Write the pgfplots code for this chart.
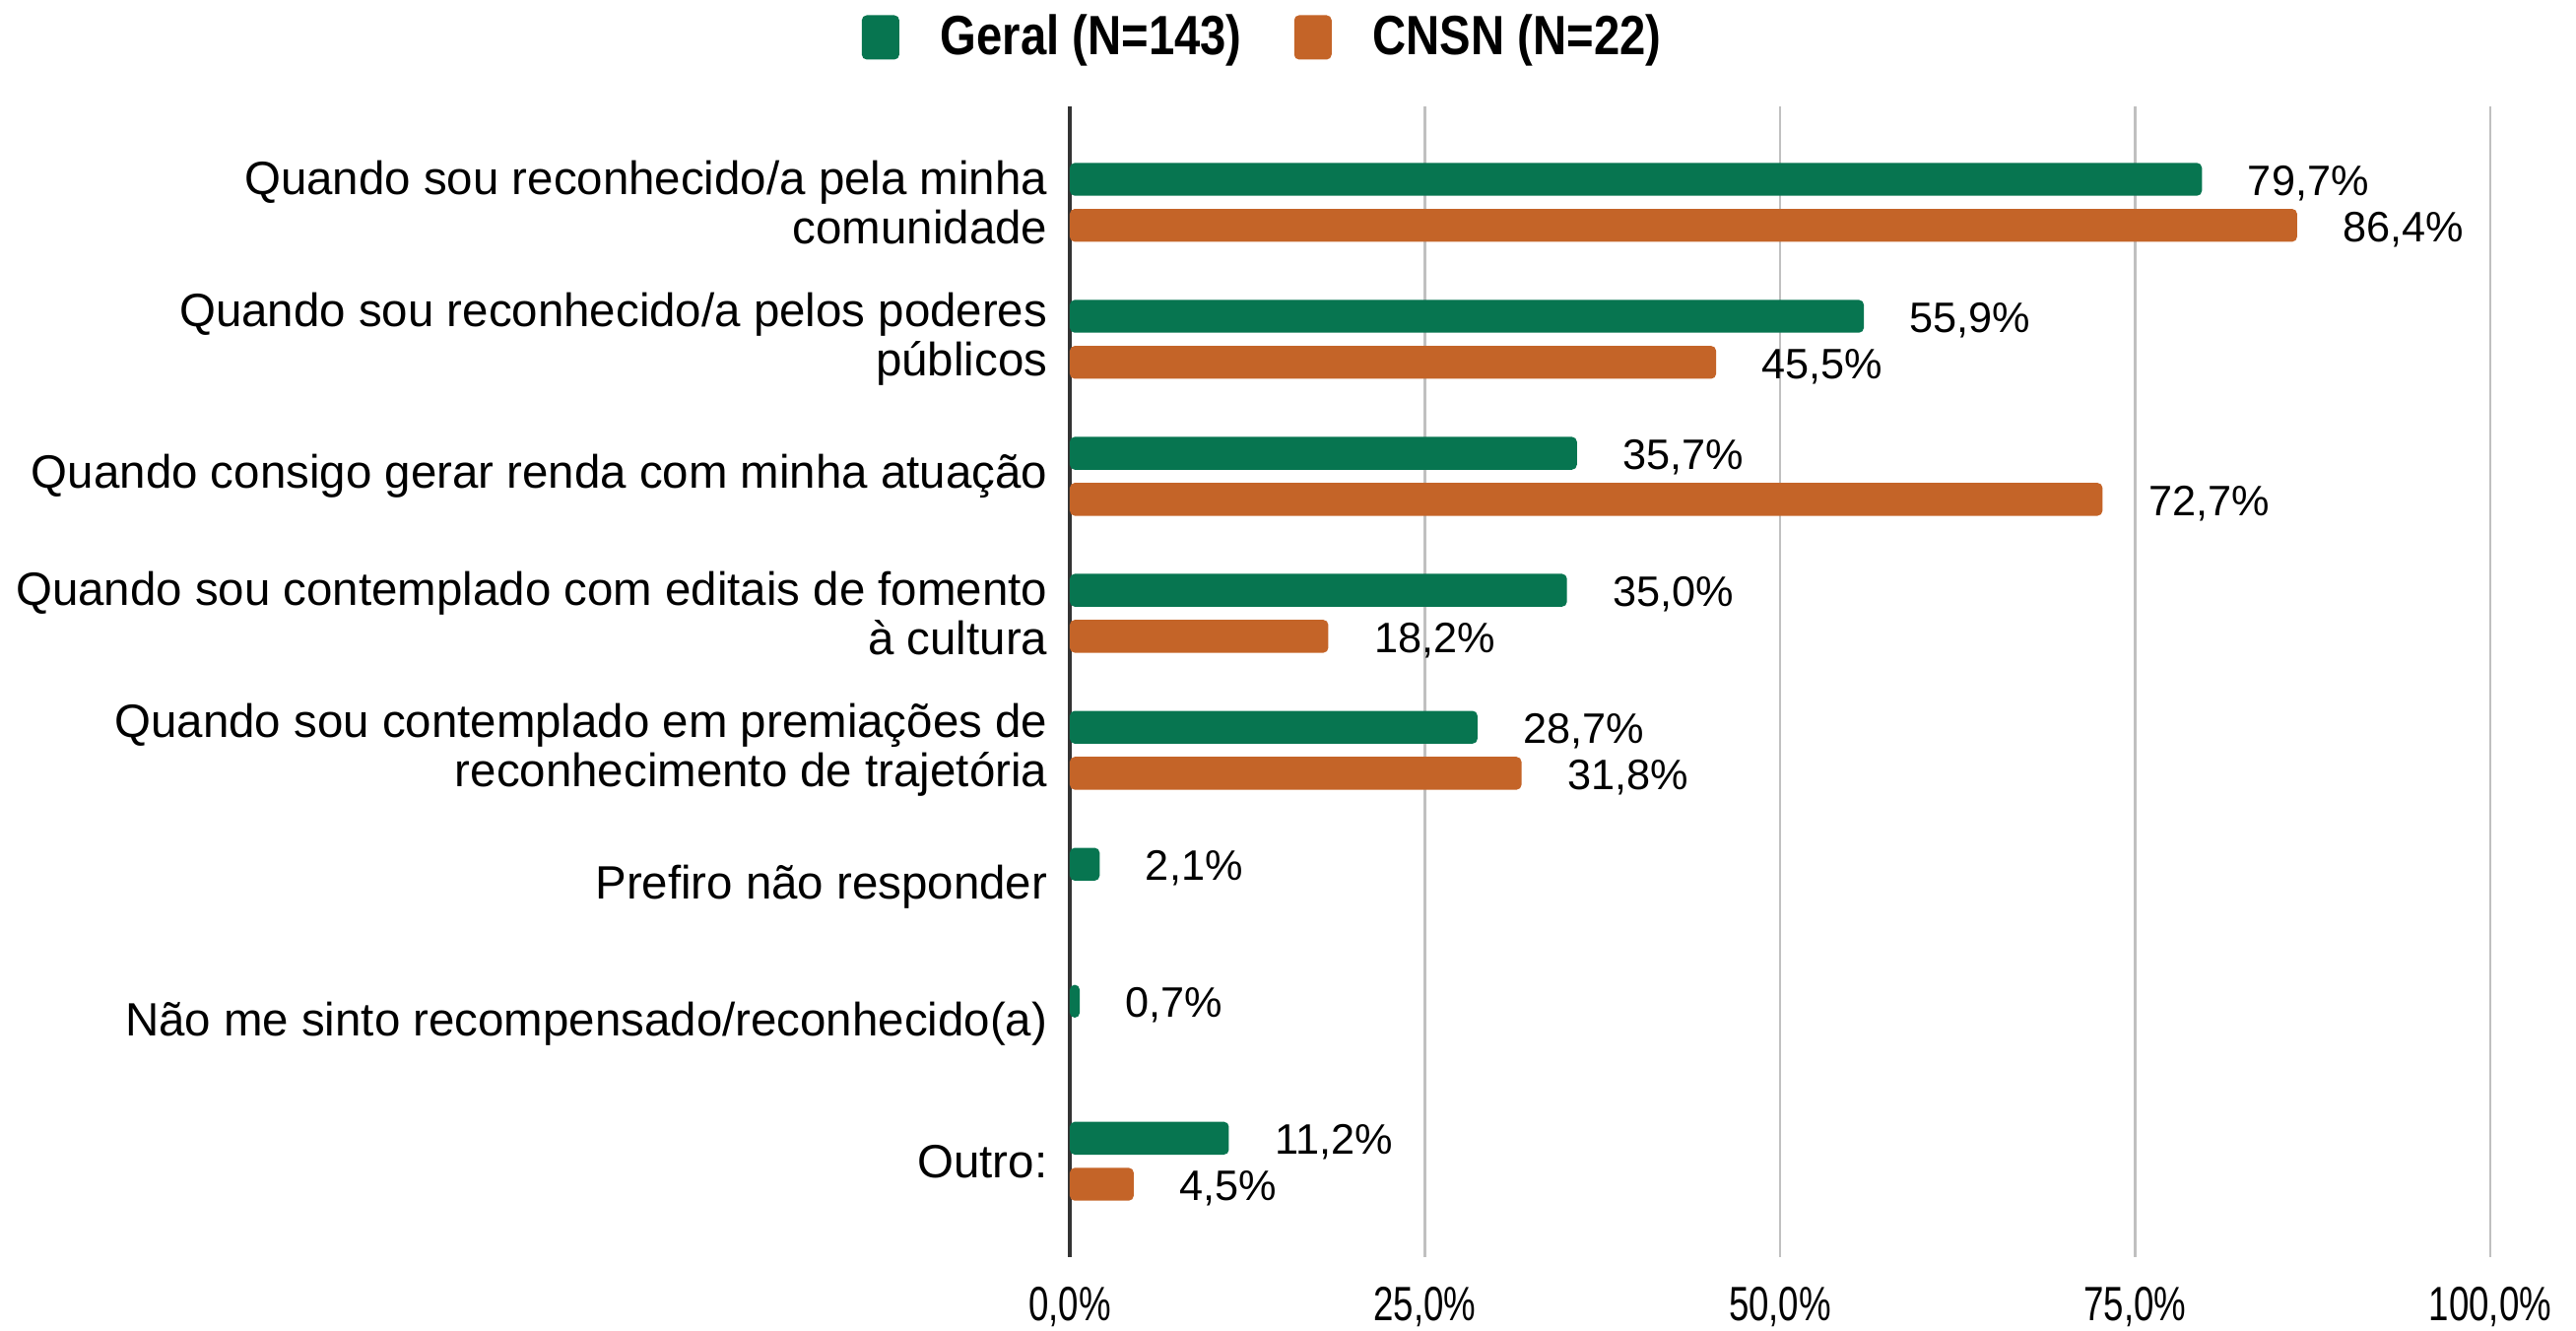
\documentclass[border=0pt]{standalone}
\usepackage{pgfplots}
\pgfplotsset{compat=1.18}
\usepackage{fontspec}
\setmainfont{Liberation Sans}
\definecolor{geral}{RGB}{7,117,80}
\definecolor{cnsn}{RGB}{196,100,40}
\definecolor{gridgray}{RGB}{192,192,192}
\newcommand{\lbl}{\fontsize{13.5pt}{14.2pt}\selectfont}
\newcommand{\valfont}{\fontsize{12.3pt}{14pt}\selectfont}
\newcommand{\tickfont}{\fontsize{13.9pt}{15pt}\selectfont}
\newcommand{\legfont}{\fontsize{16pt}{18pt}\selectfont\bfseries}
\newcommand{\tk}[1]{\scalebox{0.75}[1]{#1}}
\newcommand{\legtxt}[1]{\scalebox{0.84}[1]{#1}}

\begin{document}
\begin{tikzpicture}
\useasboundingbox (-108.6mm,-7.5mm) rectangle (152.9mm,127.6mm);
\begin{axis}[
  at={(0,0)}, anchor=south west,
  scale only axis,
  width=144.2mm, height=116.8mm,
  xbar,
  xmin=0, xmax=100,
  ymin=-0.7, ymax=7.7,
  y dir=reverse,
  bar width=0.24,
  axis line style={draw=none},
  major tick length=0pt,
  xtick={25,50,75,100},
  xticklabels={{\tk{25,0\%}},{\tk{50,0\%}},{\tk{75,0\%}},{\tk{100,0\%}}},
  extra x ticks={0},
  extra x tick labels={{\tk{0,0\%}}},
  extra x tick style={grid style={draw=black!80, line width=0.9pt}},
  xmajorgrids,
  grid style={draw=gridgray, line width=0.7pt},
  xticklabel style={font=\tickfont, anchor=base, yshift=-6.4mm},
  ytick={0,...,7},
  yticklabels={
    {Quando sou reconhecido/a pela minha\\comunidade},
    {Quando sou reconhecido/a pelos poderes\\públicos},
    {Quando consigo gerar renda com minha atuação},
    {Quando sou contemplado com editais de fomento\\à cultura},
    {Quando sou contemplado em premiações de\\reconhecimento de trajetória},
    {Prefiro não responder},
    {Não me sinto recompensado/reconhecido(a)},
    {Outro:}},
  yticklabel style={align=right, font=\lbl, anchor=east, inner sep=0pt, xshift=-2.2mm},
  nodes near coords,
  point meta=explicit symbolic,
  nodes near coords style={font=\valfont, anchor=west, inner sep=0pt, xshift=4.6mm, yshift=-0.4mm, text=black},
  legend image code/.code={\fill[#1] (0mm,-2.25mm) rectangle (3.8mm,2.25mm);},
  legend style={at={(0.135,1.06)}, anchor=center, draw=none, fill=none,
    legend columns=2, font=\legfont, inner sep=0pt,
    nodes={inner sep=0pt},
    /tikz/every odd column/.append style={column sep=4.2mm},
    /tikz/every even column/.append style={column sep=5.3mm}},
]
\addplot[fill=geral, draw=none, rounded corners=0.5mm, bar shift=-0.168] coordinates {
  (79.7,0) [79,7\%]
  (55.9,1) [55,9\%]
  (35.7,2) [35,7\%]
  (35.0,3) [35,0\%]
  (28.7,4) [28,7\%]
  (2.1,5) [2,1\%]
  (0.7,6) [0,7\%]
  (11.2,7) [11,2\%]
};
\addlegendentry{\legtxt{Geral (N=143)}}
\addplot[fill=cnsn, draw=none, rounded corners=0.5mm, bar shift=0.168] coordinates {
  (86.4,0) [86,4\%]
  (45.5,1) [45,5\%]
  (72.7,2) [72,7\%]
  (18.2,3) [18,2\%]
  (31.8,4) [31,8\%]
  (4.5,7) [4,5\%]
};
\addlegendentry{\legtxt{CNSN (N=22)}}
\end{axis}
\end{tikzpicture}
\end{document}
